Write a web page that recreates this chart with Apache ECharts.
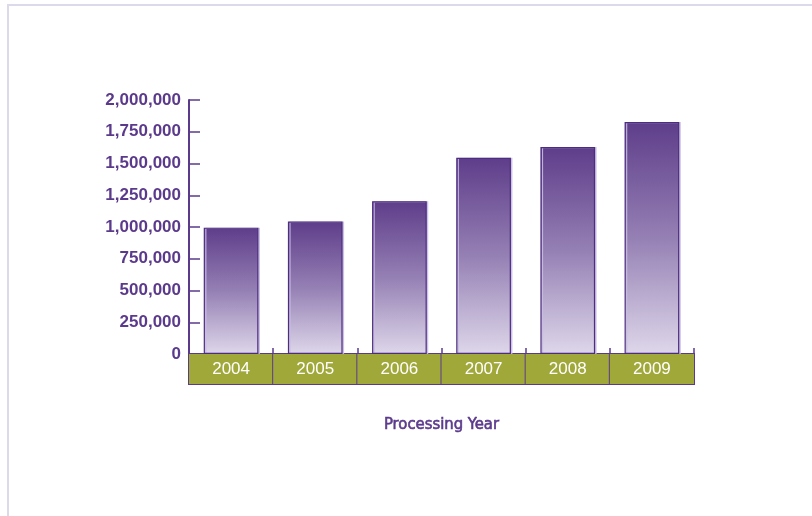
<!DOCTYPE html>
<html>
<head>
<meta charset="utf-8">
<script src="https://cdn.jsdelivr.net/npm/echarts@6/dist/echarts.min.js"></script>
<style>
html,body{margin:0;padding:0;background:#fff;}
#chart{width:812px;height:516px;}
</style>
</head>
<body>
<div id="chart"></div>
<script>
const categories = ['2004', '2005', '2006', '2007', '2008', '2009'];
const values = [995000, 1043000, 1203000, 1545000, 1629000, 1826000];
const yTicks = { min: 0, max: 2000000, interval: 250000 };
const xTitle = 'Processing Year';

const purple = '#5b3a8c';
const gridLeft = 189, gridRight = 118, gridTop = 100, gridBottom = 162;
const catWidth = (812 - gridLeft - gridRight) / categories.length;

const chart = echarts.init(document.getElementById('chart'), null, { renderer: 'canvas' });
chart.setOption({
  animation: false,
  backgroundColor: '#ffffff',
  graphic: [{
    type: 'rect',
    silent: true,
    shape: { x: 8, y: 5, width: 1000, height: 1000 },
    style: { fill: null, stroke: '#dcd9ea', lineWidth: 2 }
  }],
  grid: { left: gridLeft, right: gridRight, top: gridTop, bottom: gridBottom },
  xAxis: {
    type: 'category',
    data: categories,
    boundaryGap: true,
    name: xTitle,
    nameLocation: 'middle',
    nameGap: 62,
    nameTextStyle: { color: purple, fontSize: 16.5, fontFamily: '"Liberation Sans Narrow", "DejaVu Sans Condensed", sans-serif', fontWeight: 'normal', textBorderColor: purple, textBorderWidth: 0.6 },
    axisLine: { show: true, lineStyle: { color: purple, width: 1.5 } },
    axisTick: { show: true, inside: true, length: 6, alignWithLabel: false, lineStyle: { color: purple, width: 1.5 } },
    axisLabel: {
      interval: 0,
      showMinLabel: true,
      showMaxLabel: true,
      hideOverlap: false,
      margin: 0,
      color: '#ffffff',
      fontSize: 17,
      fontFamily: '"Liberation Sans", Arial, sans-serif',
      backgroundColor: '#a0a83a',
      borderColor: purple,
      borderWidth: 1,
      width: catWidth,
      height: 30,
      lineHeight: 30,
      padding: 0,
      align: 'center',
      verticalAlign: 'top'
    },
    splitLine: { show: false }
  },
  yAxis: {
    type: 'value',
    min: yTicks.min,
    max: yTicks.max,
    interval: yTicks.interval,
    axisLine: { show: true, lineStyle: { color: purple, width: 2 } },
    axisTick: { show: true, inside: true, length: 11, lineStyle: { color: purple, width: 1.5 } },
    axisLabel: {
      margin: 8,
      color: purple,
      fontSize: 17,
      fontWeight: 'bold',
      fontFamily: '"Liberation Sans", Arial, sans-serif',
      formatter: v => v.toLocaleString('en-US')
    },
    splitLine: { show: false }
  },
  series: [{
    type: 'bar',
    data: values,
    barWidth: '65%',
    itemStyle: {
      color: new echarts.graphic.LinearGradient(0, 0, 0, 1, [
        { offset: 0, color: '#5e3d8a' },
        { offset: 0.5, color: '#9580b4' },
        { offset: 1, color: '#ded7ea' }
      ]),
      borderColor: '#4e2d80',
      borderWidth: 1.2,
      shadowColor: 'rgba(200,190,225,0.9)',
      shadowOffsetX: 1.5,
      shadowBlur: 0
    }
  }]
});
</script>
</body>
</html>
